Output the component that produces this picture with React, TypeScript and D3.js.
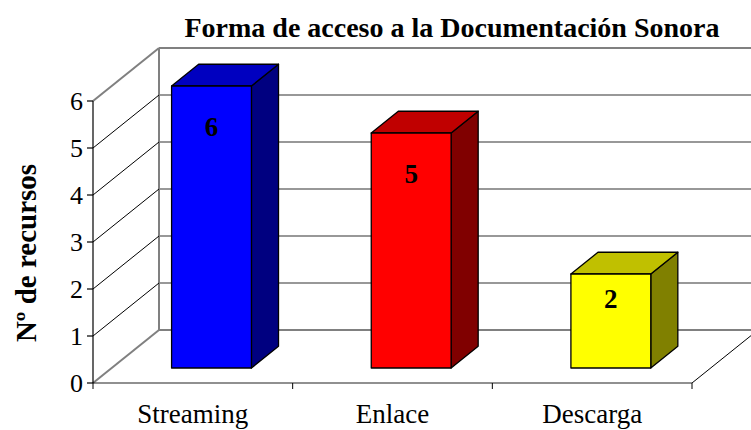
import React from "react";
import * as d3 from "d3";

const categories = ["Streaming", "Enlace", "Descarga"];
const values = [6, 5, 2];
const yTicks = [0, 1, 2, 3, 4, 5, 6];
const frontColors = ["#0000FF", "#FF0000", "#FFFF00"];
const topColors = ["#0000C0", "#C00000", "#C0C000"];
const sideColors = ["#000080", "#800000", "#808000"];
const title = "Forma de acceso a la Documentación Sonora";
const yTitle = "Nº de recursos";

const W = 751;
const H = 430;
const FONT = "'Liberation Serif', 'Times New Roman', Times, serif";

export default function App() {
  const x0 = 93, x1 = 692;
  const depthDX = 66, depthDY = -53;
  const x = d3.scaleBand<string>().domain(categories).range([x0, x1]).paddingInner(0.6).paddingOuter(0.3);
  const y = d3.scaleLinear().domain([0, 6]).range([383, 101]);
  const step = x.step();
  const bw = x.bandwidth();
  const fFront = 0.283;
  const fBack = fFront + 0.41;
  const P = (px: number, v: number, f: number): [number, number] => [px + f * depthDX, y(v) + f * depthDY];
  const pts = (arr: [number, number][]) => arr.map((p) => p.join(",")).join(" ");

  const backL = x0 + depthDX, backR = x1 + depthDX;

  return (
    <svg width={W} height={H} style={{ position: "absolute", left: 0, top: 0, background: "#fff" }} fontFamily={FONT}>
      <rect x={0} y={0} width={W} height={H} fill="#fff" />
      {/* back wall gridlines */}
      {yTicks.map((t) => {
        const edge = t === 0 || t === yTicks[yTicks.length - 1];
        return (
          <line key={"bg" + t} x1={backL} x2={backR} y1={y(t) + depthDY} y2={y(t) + depthDY}
            stroke={edge ? "#808080" : "#333"} strokeWidth={edge ? 2 : 1.2} />
        );
      })}
      <line x1={backL} x2={backL} y1={y(6) + depthDY} y2={y(0) + depthDY} stroke="#808080" strokeWidth={2} />
      {/* side wall diagonals */}
      {yTicks.map((t) => {
        const edge = t === 0 || t === yTicks[yTicks.length - 1];
        return (
          <line key={"sd" + t} x1={x0} y1={y(t)} x2={backL} y2={y(t) + depthDY}
            stroke={edge ? "#808080" : "#000"} strokeWidth={edge ? 2 : 1} />
        );
      })}
      {/* floor */}
      <line x1={x0} x2={x1} y1={y(0)} y2={y(0)} stroke="#222" strokeWidth={1.2} />
      <line x1={x1} y1={y(0)} x2={backR} y2={y(0) + depthDY} stroke="#000" strokeWidth={1} />
      {/* front axis */}
      <line x1={x0} x2={x0} y1={y(6)} y2={y(0)} stroke="#000" strokeWidth={1.2} />
      {yTicks.map((t) => (
        <g key={"yt" + t}>
          <line x1={x0 - 6} x2={x0} y1={y(t)} y2={y(t)} stroke="#000" strokeWidth={1.2} />
          <text x={83} y={y(t) + 9} textAnchor="end" fontSize={26} fill="#000">{t}</text>
        </g>
      ))}
      {/* category ticks */}
      {d3.range(categories.length + 1).map((i) => (
        <line key={"ct" + i} x1={x0 + step * i} x2={x0 + step * i} y1={y(0)} y2={y(0) + 6} stroke="#000" strokeWidth={1} />
      ))}
      {categories.map((c) => (
        <text key={"cl" + c} x={(x(c) as number) + bw / 2} y={423} textAnchor="middle" fontSize={27} fill="#000">{c}</text>
      ))}
      {/* bars */}
      {categories.map((c, i) => {
        const v = values[i];
        const l = x(c) as number;
        const r = l + bw;
        const front: [number, number][] = [P(l, 0, fFront), P(r, 0, fFront), P(r, v, fFront), P(l, v, fFront)];
        const top: [number, number][] = [P(l, v, fFront), P(r, v, fFront), P(r, v, fBack), P(l, v, fBack)];
        const side: [number, number][] = [P(r, 0, fFront), P(r, 0, fBack), P(r, v, fBack), P(r, v, fFront)];
        const topY = P(l, v, fFront)[1];
        const barH = P(l, 0, fFront)[1] - topY;
        const off = Math.min(50, barH * 0.36);
        return (
          <g key={"bar" + c}>
            <polygon points={pts(side)} fill={sideColors[i]} stroke="#000" strokeWidth={1.3} strokeLinejoin="round" />
            <polygon points={pts(top)} fill={topColors[i]} stroke="#000" strokeWidth={1.3} strokeLinejoin="round" />
            <polygon points={pts(front)} fill={frontColors[i]} stroke="#000" strokeWidth={1.3} strokeLinejoin="round" />
            <text x={(front[0][0] + front[1][0]) / 2} y={topY + off} textAnchor="middle" fontSize={27} fontWeight="bold" fill="#000">{v}</text>
          </g>
        );
      })}
      {/* titles */}
      <text x={452} y={37} textAnchor="middle" fontSize={28} fontWeight="bold" fill="#000">{title}</text>
      <text transform={`translate(36,253) rotate(-90)`} textAnchor="middle" fontSize={29} fontWeight="bold" fill="#000">{yTitle}</text>
    </svg>
  );
}
